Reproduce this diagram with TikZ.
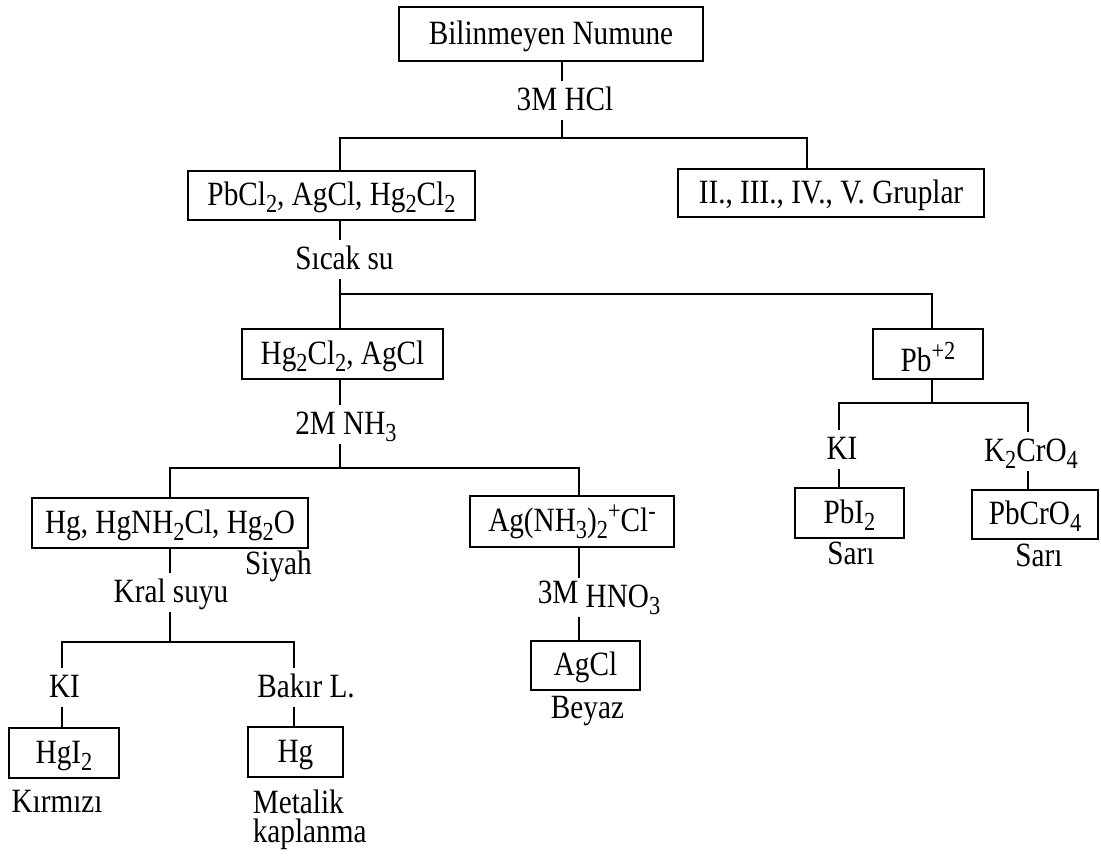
\documentclass[tikz,border=0pt]{standalone}
\usepackage{fontspec}
\setmainfont[FakeStretch=0.86]{Liberation Serif}
\newcommand\sbs[1]{\raisebox{-7pt}{\fontsize{26}{30}\selectfont #1}}
\newcommand\sps[1]{\raisebox{12pt}{\fontsize{26}{30}\selectfont #1}}
\begin{document}
\begin{tikzpicture}[x=1pt,y=-1pt,
  every node/.style={font=\fontsize{34}{38}\selectfont},
  box/.style={draw, line width=1.7pt, inner sep=0pt, text height=26pt, text depth=6pt},
  lbl/.style={anchor=base, inner sep=0pt, text height=24pt, text depth=5pt, outer ysep=5pt},
  note/.style={anchor=base, inner sep=0pt},
  line width=1.7pt]
\useasboundingbox (0,0) rectangle (1101,855);
% boxes
\node[box, minimum width=304pt, minimum height=54pt] (B) at (551,34) {Bilinmeyen Numune};
\node[box, minimum width=287pt, minimum height=49pt] (P1) at (331.5,195.5) {PbCl\sbs{2}, AgCl, Hg\sbs{2}Cl\sbs{2}};
\node[box, minimum width=306pt, minimum height=48pt] (G) at (831,193) {II., III., IV., V. Gruplar};
\node[box, minimum width=201pt, minimum height=50pt] (H2) at (342.5,354) {Hg\sbs{2}Cl\sbs{2}, AgCl};
\node[box, minimum width=110pt, minimum height=50pt, text height=40pt, text depth=6pt] (Pb) at (928,354) {Pb\sps{+2}};
\node[box, minimum width=276pt, minimum height=50pt] (HgM) at (170,523) {Hg, HgNH\sbs{2}Cl, Hg\sbs{2}O};
\node[box, minimum width=204pt, minimum height=51pt] (Ag) at (572,521.5) {Ag(NH\sbs{3})\sbs{2}\sps{+}Cl\sps{-}};
\node[box, minimum width=109pt, minimum height=49pt] (AgCl) at (585.5,665.5) {AgCl};
\node[box, minimum width=109pt, minimum height=50pt] (PbI) at (849.5,513) {PbI\sbs{2}};
\node[box, minimum width=126pt, minimum height=49pt] (PbCr) at (1035,514.5) {PbCrO\sbs{4}};
\node[box, minimum width=110pt, minimum height=50pt] (HgI) at (64,753) {HgI\sbs{2}};
\node[box, minimum width=95pt, minimum height=50pt] (Hg) at (295.5,752) {Hg};
% reagent labels
\node[lbl] (L1) at (565,110) {3M HCl};
\node[lbl] (L2) at (344.5,269) {Sıcak su};
\node[lbl] (L3) at (346,434) {2M NH\sbs{3}};
\node[lbl] (L4) at (842,459) {KI};
\node[lbl] (L5) at (1031,461) {K\sbs{2}CrO\sbs{4}};
\node[lbl] (L6) at (171,602) {Kral suyu};
\node[lbl] (L7) at (64.5,697) {KI};
\node[lbl] (L8) at (306,697) {Bakır L.};
\node[lbl] (L9) at (599,607) {\raisebox{4pt}{3M} HNO\sbs{3}};
% notes
\node[note] (n1) at (278.5,574) {Siyah};
\node[note] (n2) at (851,564) {Sarı};
\node[note] (n3) at (1039,566) {Sarı};
\node[note] (n4) at (587.5,718) {Beyaz};
\node[note] (n5) at (57,812) {Kırmızı};
\node[note, anchor=base west, align=left, font=\fontsize{34}{29}\selectfont] (n6) at (252,842) {Metalik\\kaplanma};
% junctions
\coordinate (a0) at (562,138); \coordinate (a1) at (340,138); \coordinate (a2) at (807,138);
\coordinate (b0) at (340,294); \coordinate (b2) at (932,294);
\coordinate (c0) at (340,468); \coordinate (c1) at (170,468); \coordinate (c2) at (579,468);
\coordinate (d0) at (932,403); \coordinate (d1) at (839,403); \coordinate (d2) at (1028,403);
\coordinate (e0) at (170,642); \coordinate (e1) at (62,642); \coordinate (e2) at (294,642);
% connectors
\draw (B.south -| a0) -- (a0 |- L1.north);
\draw (a0 |- L1.south) -- (a0);
\draw (P1.north -| a1) -- (a1) -- (a2) -- (a2 |- G.north);
\draw (P1.south -| b0) -- (b0 |- L2.north);
\draw (b0 |- L2.south) -- (H2.north -| b0);
\draw (b0) -- (b2) -- (b2 |- Pb.north);
\draw (H2.south -| c0) -- (c0 |- L3.north);
\draw (c0 |- L3.south) -- (c0);
\draw (HgM.north -| c1) -- (c1) -- (c2) -- (Ag.north -| c2);
\draw (Pb.south -| d0) -- (d0);
\draw (L4.north -| d1) -- (d1) -- (d2) -- (L5.north -| d2);
\draw (L4.south -| d1) -- (PbI.north -| d1);
\draw (L5.south -| d2) -- (PbCr.north -| d2);
\draw (HgM.south -| e0) -- (e0 |- L6.north);
\draw (e0 |- L6.south) -- (e0);
\draw (L7.north -| e1) -- (e1) -- (e2) -- (L8.north -| e2);
\draw (L7.south -| e1) -- (HgI.north -| e1);
\draw (L8.south -| e2) -- (Hg.north -| e2);
\draw (Ag.south -| c2) -- (L9.north -| c2);
\draw (L9.south -| c2) -- (AgCl.north -| c2);
\end{tikzpicture}
\end{document}
